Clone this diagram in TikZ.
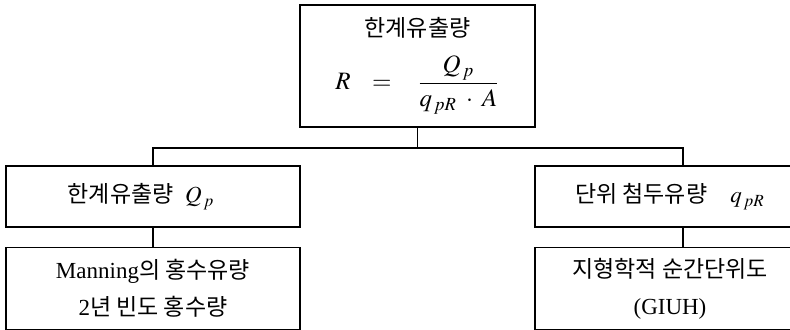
\documentclass[tikz,border=0pt]{standalone}
\usepackage{mathptmx}
\usepackage[no-math]{fontspec}
\setmainfont{Liberation Serif}
\newfontfamily\kr{Noto Sans CJK KR}
\usetikzlibrary{positioning}

\begin{document}
\begin{tikzpicture}[
  node distance=9.5pt,
  box/.style={draw, line width=0.8pt, align=center, inner sep=0pt,
    font=\fontsize{11.5}{18.5}\selectfont},
  link/.style={line width=0.8pt}
]
\clip (0,0) rectangle (395pt,-164.5pt);
\node[box, minimum width=117.5pt, minimum height=61pt] (total) at (208.75pt,-33pt)
  {{\kr 한계유출량}\\[8pt]{\fontsize{12.5}{15}\selectfont
   $\displaystyle R\hspace{8pt}=\hspace{10pt}\frac{Q_{\,p}}{q_{\,pR}\;\cdot\;A}$}};
\node[box, minimum width=147pt, minimum height=30.5pt] (lpeak) at (76.5pt,-98.25pt)
  {{\kr 한계유출량}\enspace$Q_{\,p}$\hspace{12pt}};
\node[box, minimum width=147pt, minimum height=41pt, below=of lpeak] (lmethod)
  {Manning{\kr 의 홍수유량}\\2{\kr 년 빈도 홍수량}};
\node[box, minimum width=135pt, minimum height=30.5pt] (rpeak) at (335pt,-98.25pt)
  {{\kr 단위 첨두유량}\quad$q_{\,pR}$};
\node[box, minimum width=135pt, minimum height=41pt, below=of rpeak] (rmethod)
  {{\kr 지형학적 순간단위도}\\(GIUH)};

\draw[link] (total.south) -- ++(0,-10pt) coordinate (fork) -| (lpeak.north);
\draw[link] (fork) -| ([xshift=6.5pt]rpeak.north);
\draw[link] (lpeak) -- (lmethod);
\draw[link] ([xshift=6.5pt]rpeak.south) -- ([xshift=6.5pt]rmethod.north);
\end{tikzpicture}
\end{document}
